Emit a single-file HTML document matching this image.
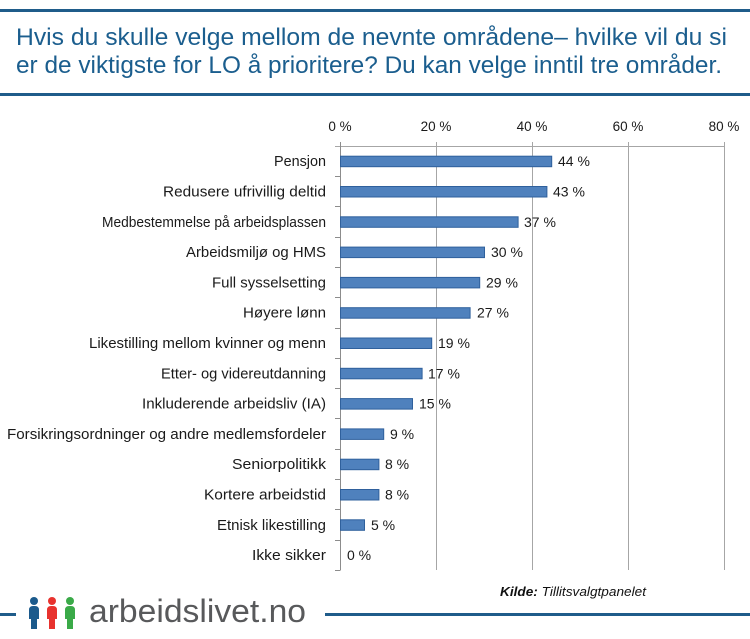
<!DOCTYPE html>
<html>
<head>
<meta charset="utf-8">
<style>
  html, body { margin: 0; padding: 0; background: #ffffff; }
  body { width: 750px; height: 639px; overflow: hidden; }
  svg { display: block; }
  .title { font-family: "Liberation Sans", sans-serif; font-size: 24.5px; fill: #1b5e8e; }
  .cat { font-family: "Liberation Sans", sans-serif; font-size: 15px; fill: #1a1a1a; }
  .val { font-family: "Liberation Sans", sans-serif; font-size: 14px; fill: #1a1a1a; }
  .tick { font-family: "Liberation Sans", sans-serif; font-size: 13.5px; fill: #1a1a1a; }
  .logo { font-family: "Liberation Sans", sans-serif; font-size: 32px; fill: #58595b; }
  .src { font-family: "Liberation Sans", sans-serif; font-size: 13px; fill: #111; font-style: italic; }
</style>
</head>
<body>
<svg width="750" height="639" viewBox="0 0 750 639" xmlns="http://www.w3.org/2000/svg">
  <rect x="0" y="0" width="750" height="639" fill="#ffffff"/>

  <!-- header lines -->
  <rect x="0" y="9" width="750" height="3" fill="#1f5c8a"/>
  <rect x="0" y="93" width="750" height="3" fill="#1f5c8a"/>

  <!-- title -->
  <text class="title" x="16" y="45" textLength="711" lengthAdjust="spacingAndGlyphs">Hvis du skulle velge mellom de nevnte områdene– hvilke vil du si</text>
  <text class="title" x="16" y="73" textLength="706" lengthAdjust="spacingAndGlyphs">er de viktigste for LO å prioritere? Du kan velge inntil tre områder.</text>

  <!-- axis tick labels -->
  <text class="tick" x="340" y="131" text-anchor="middle">0 %</text>
  <text class="tick" x="436" y="131" text-anchor="middle">20 %</text>
  <text class="tick" x="532" y="131" text-anchor="middle">40 %</text>
  <text class="tick" x="628" y="131" text-anchor="middle">60 %</text>
  <text class="tick" x="724" y="131" text-anchor="middle">80 %</text>

  <!-- gridlines -->
  <g stroke="#a6a6a6" stroke-width="1">
    <line x1="436.5" y1="142" x2="436.5" y2="570"/>
    <line x1="532.5" y1="142" x2="532.5" y2="570"/>
    <line x1="628.5" y1="142" x2="628.5" y2="570"/>
    <line x1="724.5" y1="142" x2="724.5" y2="570"/>
    <line x1="335" y1="146.5" x2="725" y2="146.5"/>
  </g>

  <!-- category axis -->
  <g stroke="#8c8c8c" stroke-width="1">
    <line x1="340.5" y1="142" x2="340.5" y2="570.5"/>
    <line x1="335" y1="176.5" x2="340" y2="176.5"/>
    <line x1="335" y1="206.5" x2="340" y2="206.5"/>
    <line x1="335" y1="237.5" x2="340" y2="237.5"/>
    <line x1="335" y1="267.5" x2="340" y2="267.5"/>
    <line x1="335" y1="297.5" x2="340" y2="297.5"/>
    <line x1="335" y1="328.5" x2="340" y2="328.5"/>
    <line x1="335" y1="358.5" x2="340" y2="358.5"/>
    <line x1="335" y1="388.5" x2="340" y2="388.5"/>
    <line x1="335" y1="418.5" x2="340" y2="418.5"/>
    <line x1="335" y1="449.5" x2="340" y2="449.5"/>
    <line x1="335" y1="479.5" x2="340" y2="479.5"/>
    <line x1="335" y1="509.5" x2="340" y2="509.5"/>
    <line x1="335" y1="540.5" x2="340" y2="540.5"/>
    <line x1="335" y1="570.5" x2="340" y2="570.5"/>
  </g>

  <!-- bars -->
  <g fill="#4f81bd" stroke="#2f609c" stroke-width="1">
    <rect x="340.5" y="156.2" width="211.2" height="10.5"/>
    <rect x="340.5" y="186.5" width="206.4" height="10.5"/>
    <rect x="340.5" y="216.8" width="177.6" height="10.5"/>
    <rect x="340.5" y="247.1" width="144" height="10.5"/>
    <rect x="340.5" y="277.4" width="139.2" height="10.5"/>
    <rect x="340.5" y="307.7" width="129.6" height="10.5"/>
    <rect x="340.5" y="338.0" width="91.2" height="10.5"/>
    <rect x="340.5" y="368.3" width="81.6" height="10.5"/>
    <rect x="340.5" y="398.6" width="72" height="10.5"/>
    <rect x="340.5" y="428.9" width="43.2" height="10.5"/>
    <rect x="340.5" y="459.2" width="38.4" height="10.5"/>
    <rect x="340.5" y="489.5" width="38.4" height="10.5"/>
    <rect x="340.5" y="519.8" width="24" height="10.5"/>
  </g>

  <!-- category labels -->
  <g class="cat" text-anchor="end">
    <text class="cat" x="326" y="166.2" textLength="52" lengthAdjust="spacingAndGlyphs">Pensjon</text>
    <text class="cat" x="326" y="196.5" textLength="163" lengthAdjust="spacingAndGlyphs">Redusere ufrivillig deltid</text>
    <text class="cat" x="326" y="226.8" textLength="224" lengthAdjust="spacingAndGlyphs">Medbestemmelse på arbeidsplassen</text>
    <text class="cat" x="326" y="257.1" textLength="140" lengthAdjust="spacingAndGlyphs">Arbeidsmiljø og HMS</text>
    <text class="cat" x="326" y="287.4" textLength="114" lengthAdjust="spacingAndGlyphs">Full sysselsetting</text>
    <text class="cat" x="326" y="317.7" textLength="83" lengthAdjust="spacingAndGlyphs">Høyere lønn</text>
    <text class="cat" x="326" y="348.0" textLength="237" lengthAdjust="spacingAndGlyphs">Likestilling mellom kvinner og menn</text>
    <text class="cat" x="326" y="378.3" textLength="165" lengthAdjust="spacingAndGlyphs">Etter- og videreutdanning</text>
    <text class="cat" x="326" y="408.6" textLength="184" lengthAdjust="spacingAndGlyphs">Inkluderende arbeidsliv (IA)</text>
    <text class="cat" x="326" y="438.9" textLength="319" lengthAdjust="spacingAndGlyphs">Forsikringsordninger og andre medlemsfordeler</text>
    <text class="cat" x="326" y="469.2" textLength="94" lengthAdjust="spacingAndGlyphs">Seniorpolitikk</text>
    <text class="cat" x="326" y="499.5" textLength="122" lengthAdjust="spacingAndGlyphs">Kortere arbeidstid</text>
    <text class="cat" x="326" y="529.8" textLength="109" lengthAdjust="spacingAndGlyphs">Etnisk likestilling</text>
    <text class="cat" x="326" y="560.1" textLength="74" lengthAdjust="spacingAndGlyphs">Ikke sikker</text>
  </g>

  <!-- value labels -->
  <text class="val" x="558" y="166.2">44 %</text>
  <text class="val" x="553" y="196.5">43 %</text>
  <text class="val" x="524" y="226.8">37 %</text>
  <text class="val" x="491" y="257.1">30 %</text>
  <text class="val" x="486" y="287.4">29 %</text>
  <text class="val" x="477" y="317.7">27 %</text>
  <text class="val" x="438" y="348.0">19 %</text>
  <text class="val" x="428" y="378.3">17 %</text>
  <text class="val" x="419" y="408.6">15 %</text>
  <text class="val" x="390" y="438.9">9 %</text>
  <text class="val" x="385" y="469.2">8 %</text>
  <text class="val" x="385" y="499.5">8 %</text>
  <text class="val" x="371" y="529.8">5 %</text>
  <text class="val" x="347" y="560.1">0 %</text>

  <!-- source -->
  <text class="src" x="500" y="596" textLength="146" lengthAdjust="spacingAndGlyphs"><tspan font-weight="bold">Kilde:</tspan> Tillitsvalgtpanelet</text>

  <!-- footer lines -->
  <rect x="0" y="613" width="16" height="3" fill="#1f5c8a"/>
  <rect x="325" y="613" width="425" height="3" fill="#1f5c8a"/>

  <!-- logo people -->
  <g>
    <circle cx="34" cy="601" r="4" fill="#1b5a8c"/>
    <path d="M29 610 Q29 606 33 606 L35 606 Q39 606 39 610 L39 619 L37 619 L37 629 L31 629 L31 619 L29 619 Z" fill="#1b5a8c"/>
    <circle cx="52" cy="601" r="4" fill="#e8322e"/>
    <path d="M47 610 Q47 606 51 606 L53 606 Q57 606 57 610 L57 619 L55 619 L55 629 L49 629 L49 619 L47 619 Z" fill="#e8322e"/>
    <circle cx="70" cy="601" r="4" fill="#3aaa48"/>
    <path d="M65 610 Q65 606 69 606 L71 606 Q75 606 75 610 L75 619 L73 619 L73 629 L67 629 L67 619 L65 619 Z" fill="#3aaa48"/>
  </g>
  <text class="logo" x="89" y="622" textLength="217" lengthAdjust="spacingAndGlyphs">arbeidslivet.no</text>
</svg>
</body>
</html>
